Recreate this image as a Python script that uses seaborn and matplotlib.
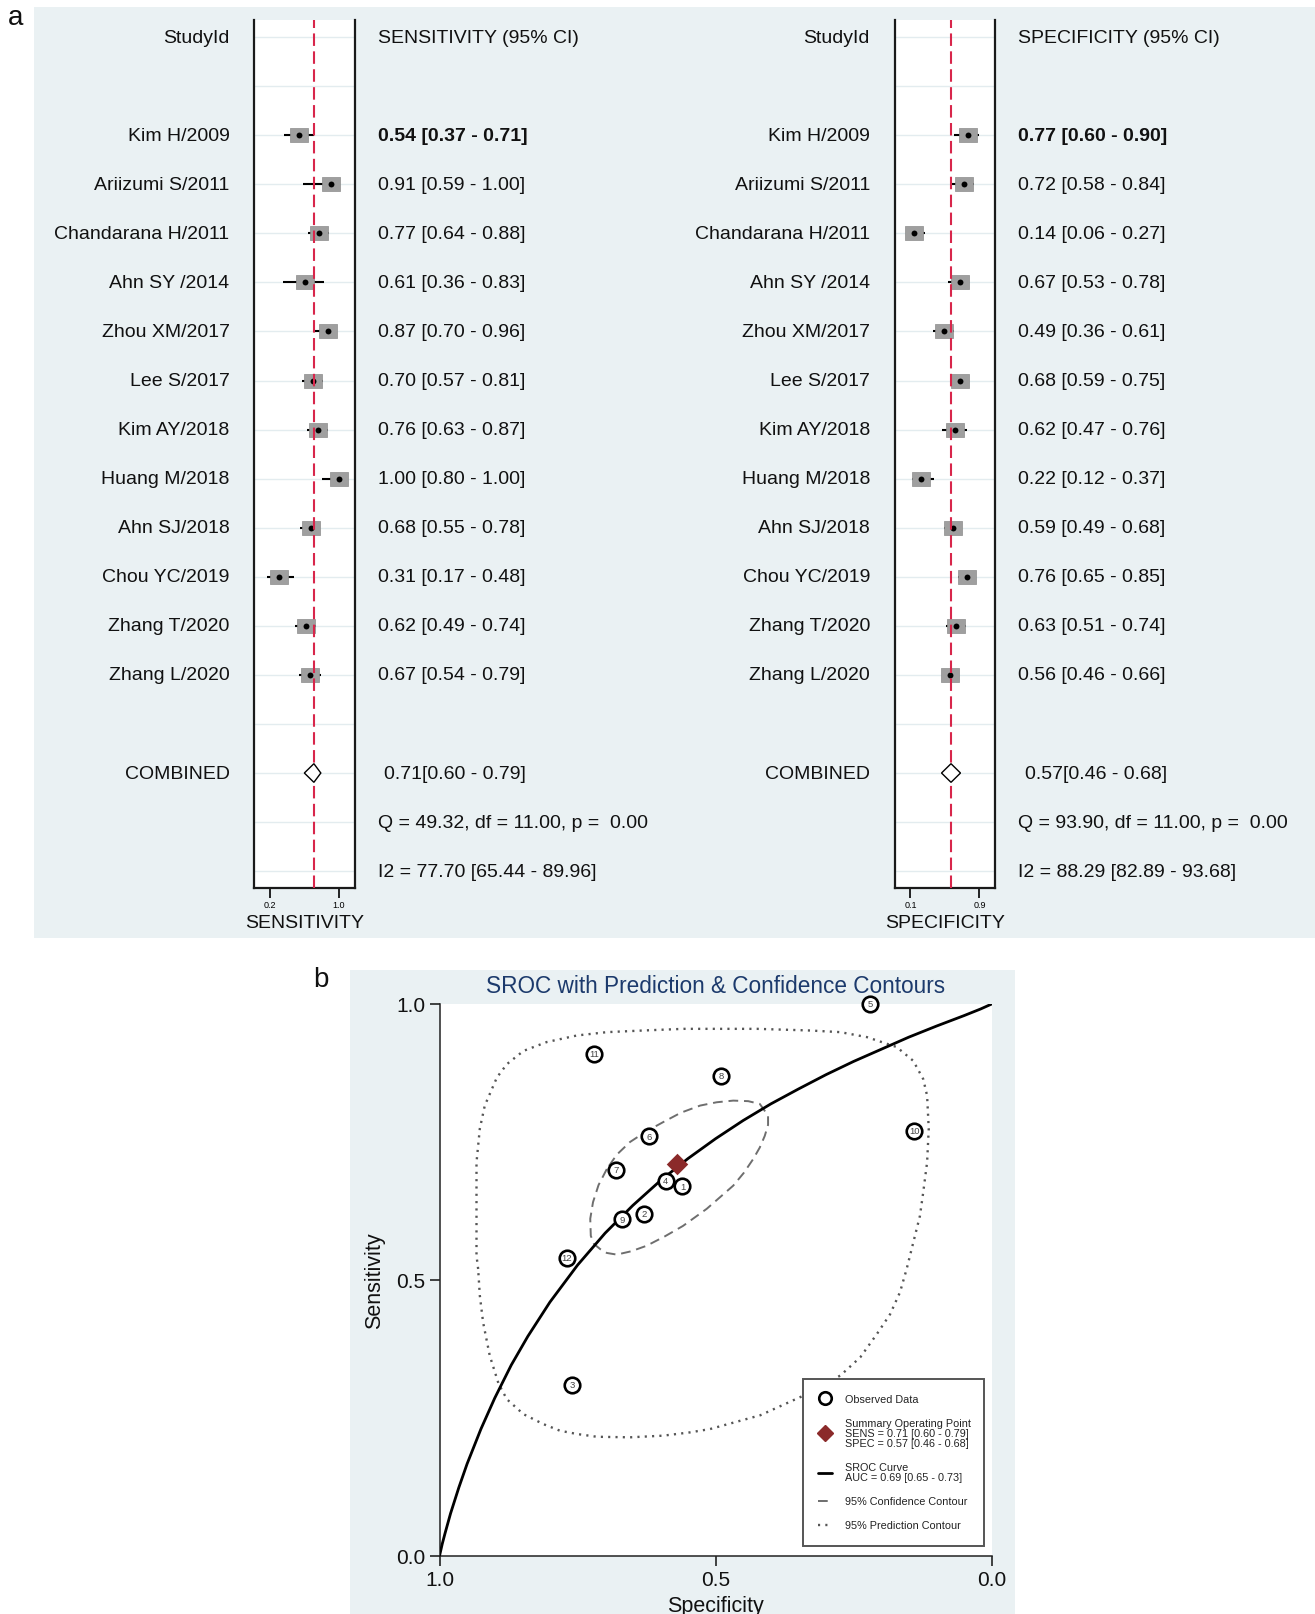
import numpy as np
import pandas as pd
import matplotlib
matplotlib.use("Agg")
import matplotlib.pyplot as plt
import matplotlib.transforms as mtrans
from matplotlib.patches import Rectangle, Polygon
from matplotlib.lines import Line2D
from matplotlib.path import Path
import seaborn as sns

# ---------------- data ----------------
studies = ["Kim H/2009", "Ariizumi S/2011", "Chandarana H/2011", "Ahn SY /2014",
           "Zhou XM/2017", "Lee S/2017", "Kim AY/2018", "Huang M/2018",
           "Ahn SJ/2018", "Chou YC/2019", "Zhang T/2020", "Zhang L/2020"]
sroc_ids = [12, 11, 10, 9, 8, 7, 6, 5, 4, 3, 2, 1]

sens = [0.54, 0.91, 0.77, 0.61, 0.87, 0.70, 0.76, 1.00, 0.68, 0.31, 0.62, 0.67]
sens_lo = [0.37, 0.59, 0.64, 0.36, 0.70, 0.57, 0.63, 0.80, 0.55, 0.17, 0.49, 0.54]
sens_hi = [0.71, 1.00, 0.88, 0.83, 0.96, 0.81, 0.87, 1.00, 0.78, 0.48, 0.74, 0.79]

spec = [0.77, 0.72, 0.14, 0.67, 0.49, 0.68, 0.62, 0.22, 0.59, 0.76, 0.63, 0.56]
spec_lo = [0.60, 0.58, 0.06, 0.53, 0.36, 0.59, 0.47, 0.12, 0.49, 0.65, 0.51, 0.46]
spec_hi = [0.90, 0.84, 0.27, 0.78, 0.61, 0.75, 0.76, 0.37, 0.68, 0.85, 0.74, 0.66]

sens_comb = [0.71, 0.60, 0.79]
spec_comb = [0.57, 0.46, 0.68]
sens_het = "Q = 49.32, df = 11.00, p =  0.00"
sens_i2 = "I2 = 77.70 [65.44 - 89.96]"
spec_het = "Q = 93.90, df = 11.00, p =  0.00"
spec_i2 = "I2 = 88.29 [82.89 - 93.68]"
sens_ticks = [0.2, 1.0]
spec_ticks = [0.1, 0.9]

# SROC curve (specificity, sensitivity)
sroc_spec = [1.000, 0.995, 0.990, 0.980, 0.965, 0.950, 0.925, 0.900, 0.870, 0.840,
             0.800, 0.750, 0.700, 0.650, 0.600, 0.550, 0.500, 0.450, 0.400, 0.350,
             0.300, 0.250, 0.200, 0.150, 0.100, 0.050, 0.020, 0.000]
sroc_sens = [0.000, 0.022, 0.041, 0.077, 0.124, 0.167, 0.230, 0.286, 0.346, 0.398,
             0.460, 0.527, 0.585, 0.635, 0.680, 0.720, 0.756, 0.789, 0.819, 0.846,
             0.872, 0.896, 0.918, 0.940, 0.960, 0.979, 0.991, 1.000]

# 95% confidence contour
conf_spec = [0.697, 0.712, 0.722, 0.727, 0.726, 0.720, 0.709, 0.697, 0.679, 0.653,
             0.625, 0.592, 0.559, 0.516, 0.492, 0.468, 0.449, 0.432, 0.420, 0.411,
             0.405, 0.405, 0.420, 0.441, 0.468, 0.498, 0.528, 0.563, 0.595, 0.626,
             0.655, 0.679, 0.697]
conf_sens = [0.701, 0.672, 0.641, 0.611, 0.580, 0.565, 0.556, 0.549, 0.546, 0.552,
             0.562, 0.579, 0.598, 0.629, 0.650, 0.671, 0.694, 0.719, 0.740, 0.761,
             0.781, 0.798, 0.819, 0.824, 0.825, 0.822, 0.816, 0.803, 0.786, 0.769,
             0.750, 0.727, 0.701]

# 95% prediction contour
pred_spec = [0.930, 0.933, 0.933, 0.933, 0.927, 0.918, 0.896, 0.878, 0.848, 0.806,
             0.751, 0.697, 0.631, 0.558, 0.425, 0.329, 0.274, 0.226, 0.172, 0.142,
             0.124, 0.117, 0.114, 0.117, 0.124, 0.130, 0.142, 0.154, 0.166, 0.184,
             0.208, 0.238, 0.274, 0.342, 0.419, 0.510, 0.546, 0.595, 0.655, 0.715,
             0.751, 0.782, 0.812, 0.848, 0.878, 0.893, 0.909, 0.921, 0.927, 0.930]
pred_sens = [0.520, 0.544, 0.605, 0.713, 0.774, 0.816, 0.867, 0.891, 0.915, 0.931,
             0.943, 0.949, 0.952, 0.955, 0.955, 0.952, 0.949, 0.940, 0.922, 0.897,
             0.864, 0.834, 0.774, 0.713, 0.659, 0.616, 0.568, 0.520, 0.478, 0.438,
             0.402, 0.360, 0.327, 0.290, 0.255, 0.230, 0.224, 0.218, 0.215, 0.216,
             0.221, 0.227, 0.239, 0.257, 0.284, 0.312, 0.363, 0.423, 0.472, 0.520]

legend_labels = ["Observed Data",
                 "Summary Operating Point\nSENS = 0.71 [0.60 - 0.79]\nSPEC = 0.57 [0.46 - 0.68]",
                 "SROC Curve\nAUC = 0.69 [0.65 - 0.73]",
                 "95% Confidence Contour",
                 "95% Prediction Contour"]

# ---------------- style ----------------
sns.set_style("white")
plt.rcParams['font.family'] = ['Liberation Sans', 'DejaVu Sans']

W, H = 1315, 1615
fig = plt.figure(figsize=(W / 100, H / 100), dpi=100)
fig.patch.set_facecolor("white")

BG = "#EAF1F3"


def fr(x0, y0, x1, y1):
    return [x0 / W, 1 - y1 / H, (x1 - x0) / W, (y1 - y0) / H]


def bg(x0, y0, x1, y1):
    fig.patches.append(Rectangle((x0 / W, 1 - y1 / H), (x1 - x0) / W, (y1 - y0) / H,
                                 transform=fig.transFigure, facecolor=BG,
                                 edgecolor="none", zorder=-10))


bg(34, 8, 1315, 939)
bg(350, 971, 1015, 1615)

TXT = 14
box_path = Path([(-1.25, -1.0), (1.25, -1.0), (1.25, 1.0), (-1.25, 1.0), (-1.25, -1.0)],
                [Path.MOVETO, Path.LINETO, Path.LINETO, Path.LINETO, Path.CLOSEPOLY])


def forest(rect, est, lo, hi, comb, ticks, xlim, xlabel, header, lab_x, val_x, comb_x, het, i2):
    ax = fig.add_axes(fr(*rect))
    ax.set_facecolor("white")
    rows = np.arange(2, 2 + len(est))
    ax.set_xlim(*xlim)
    ax.set_ylim(17.35, -0.355)
    for k in range(0, 18):
        ax.axhline(k, color="#E3ECEF", lw=1.0, zorder=0)
    ax.hlines(rows, lo, hi, color="black", lw=1.5, zorder=2)
    df = pd.DataFrame({"est": est, "row": rows})
    sns.scatterplot(data=df, x="est", y="row", marker=box_path, s=150, color="#9F9F9F",
                    edgecolor="#8C8C8C", linewidth=0.5, ax=ax, zorder=3, legend=False)
    sns.scatterplot(data=df, x="est", y="row", marker="o", s=18, color="black",
                    edgecolor="black", linewidth=0, ax=ax, zorder=4, legend=False)
    ax.axvline(comb[0], color="#D8264B", lw=1.5, dashes=(6, 2.6), zorder=5)
    crow = 15
    ax.add_patch(Polygon([(comb[1], crow), (comb[0], crow - 0.19), (comb[2], crow),
                          (comb[0], crow + 0.19)], closed=True, facecolor="white",
                         edgecolor="black", lw=1.0, zorder=6))
    ax.set_yticks([])
    ax.set_xticks(ticks)
    ax.set_xticklabels([f"{t:.1f}" for t in ticks])
    ax.tick_params(axis="x", direction="out", length=7, width=1.2, pad=1.5,
                   labelsize=6.5, bottom=True, colors="black")
    ax.set_xlabel(xlabel, fontsize=TXT, labelpad=3.5, color="#111")
    ax.set_ylabel("")
    for s in ["left", "right", "bottom"]:
        ax.spines[s].set_visible(True)
        ax.spines[s].set_color("#1a1a1a")
        ax.spines[s].set_linewidth(1.6)
    ax.spines["top"].set_visible(False)

    tr = mtrans.blended_transform_factory(fig.transFigure, ax.transData)
    kw = dict(transform=tr, va="center", fontsize=TXT, color="#111", clip_on=False)
    ax.text(lab_x / W, 0, "StudyId", ha="right", **kw)
    ax.text(val_x / W, 0, header, ha="left", **kw)
    for i, r in enumerate(rows):
        ax.text(lab_x / W, r, studies[i], ha="right", **kw)
        ax.text(val_x / W, r, f"{est[i]:.2f} [{lo[i]:.2f} - {hi[i]:.2f}]", ha="left",
                fontweight="bold" if i == 0 else "normal", **kw)
    ax.text(lab_x / W, crow, "COMBINED", ha="right", **kw)
    ax.text(comb_x / W, crow, f"{comb[0]:.2f}[{comb[1]:.2f} - {comb[2]:.2f}]", ha="left", **kw)
    ax.text(val_x / W, 16, het, ha="left", **kw)
    ax.text(val_x / W, 17, i2, ha="left", **kw)
    return ax


forest((254.4, 20.7, 354.7, 889.3), sens, sens_lo, sens_hi, sens_comb, sens_ticks,
       (0.025, 1.18), "SENSITIVITY", "SENSITIVITY (95% CI)", 229.6, 378, 384,
       sens_het, sens_i2)
forest((894.5, 20.7, 995.0, 889.3), spec, spec_lo, spec_hi, spec_comb, spec_ticks,
       (-0.085, 1.08), "SPECIFICITY", "SPECIFICITY (95% CI)", 870, 1018.5, 1024.6,
       spec_het, spec_i2)

fig.text(8 / W, 1 - 18 / H, "a", fontsize=20, ha="left", va="center", color="#111")
fig.text(313 / W, 1 - 980 / H, "b", fontsize=20, ha="left", va="center", color="#111")

# ---------------- SROC ----------------
ax = fig.add_axes(fr(439.5, 1005, 991.7, 1557))
ax.set_facecolor("white")
ax.plot(pred_spec, pred_sens, color="#555555", lw=1.7, ls=(0, (0.9, 2.2)), zorder=2)
ax.plot(conf_spec, conf_sens, color="#6E6E6E", lw=1.4, ls=(0, (5, 3)), zorder=2)
sns.lineplot(x=sroc_spec, y=sroc_sens, sort=False, estimator=None, color="black",
             lw=2.0, ax=ax, zorder=3)
sns.scatterplot(x=spec, y=sens, s=125, color="white", edgecolor="black", linewidth=1.9,
                ax=ax, zorder=6, legend=False, clip_on=False)
for sx, sy, sid in zip(spec, sens, sroc_ids):
    ax.text(sx, sy, str(sid), fontsize=6.8, ha="center", va="center", color="#444",
            zorder=7, clip_on=False)
sns.scatterplot(x=[spec_comb[0]], y=[sens_comb[0]], marker="D", s=120, color="#8B2A2A",
                edgecolor="#8B2A2A", linewidth=0, ax=ax, zorder=8, legend=False)

ax.set_xlim(1, 0)
ax.set_ylim(0, 1)
ax.set_xticks([1.0, 0.5, 0.0])
ax.set_yticks([0.0, 0.5, 1.0])
ax.set_xticklabels(["1.0", "0.5", "0.0"])
ax.set_yticklabels(["0.0", "0.5", "1.0"])
ax.tick_params(direction="out", length=7, width=1.1, labelsize=15, pad=3, colors="#111",
               bottom=True, left=True)
ax.set_xlabel("Specificity", fontsize=15.5, labelpad=4.5, color="#111")
ax.set_ylabel("Sensitivity", fontsize=15.5, labelpad=8, color="#111")
for s in ["left", "bottom"]:
    ax.spines[s].set_visible(True)
    ax.spines[s].set_color("#222")
    ax.spines[s].set_linewidth(1.1)
for s in ["top", "right"]:
    ax.spines[s].set_visible(False)
ax.set_title("")
fig.text(715.6 / W, 1 - 987 / H, "SROC with Prediction & Confidence Contours",
         fontsize=16.3, color="#1C3A6C", ha="center", va="center")

handles = [
    Line2D([], [], marker="o", ls="none", mfc="white", mec="black", mew=1.9, ms=9),
    Line2D([], [], marker="D", ls="none", color="#8B2A2A", ms=8),
    Line2D([], [], color="black", lw=2.0),
    Line2D([], [], color="#6E6E6E", lw=1.4, ls=(0, (5, 3))),
    Line2D([], [], color="#555555", lw=1.7, ls=(0, (0.9, 2.2))),
]
x0 = (802.7 - 439.5) / 552.2
wl = (984.3 - 802.7) / 552.2
ytop = (1557 - 1380) / 552
leg = ax.legend(handles, legend_labels, loc="upper left", bbox_to_anchor=(x0, ytop, wl, 0),
                mode="expand", fontsize=7.8, frameon=True, fancybox=False,
                borderpad=1.4, labelspacing=1.3, handlelength=1.3, handletextpad=1.2,
                borderaxespad=0)
leg.get_frame().set_edgecolor("#555555")
leg.get_frame().set_linewidth(1.4)
leg.get_frame().set_facecolor("white")
leg.get_frame().set_alpha(1)
leg.set_zorder(10)
for t in leg.get_texts():
    t.set_linespacing(1.0)
    t.set_color("#222")

fig.savefig("out.png", dpi=100)
